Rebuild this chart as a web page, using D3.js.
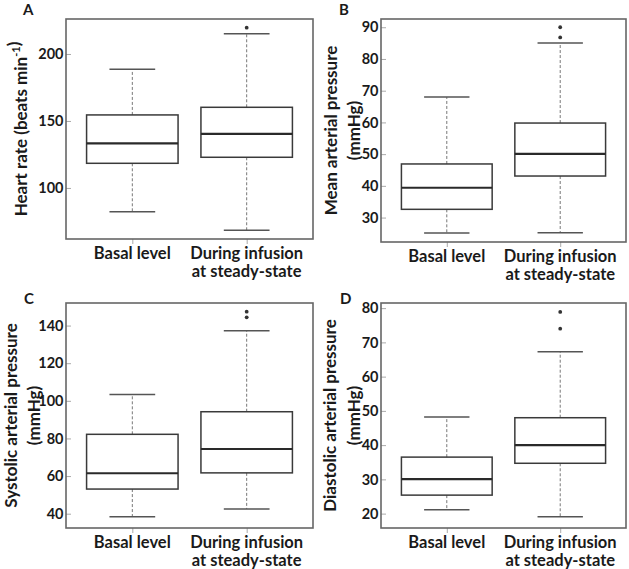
<!DOCTYPE html>
<html>
<head>
<meta charset="utf-8">
<script src="https://cdn.jsdelivr.net/npm/d3@7/dist/d3.min.js"></script>
<style>
html, body { margin: 0; padding: 0; background: #fff; }
svg { display: block; font-family: Lato, "Open Sans", sans-serif; }
</style>
</head>
<body>
<svg id="chart" width="629" height="569"></svg>
<script>
// ---- data ----
const categories = [["Basal level"], ["During infusion", "at steady-state"]];
const panelLetters = ["A", "B", "C", "D"];

// [lower whisker, Q1, median, Q3, upper whisker] for basal, infusion
const heartRate = [[82.3, 118.4, 133.3, 154.5, 188.6], [68.4, 122.9, 140.3, 160.2, 215.0]];
const heartRateOutliers = [[], [219.6]];
const meanPressure = [[25.1, 32.6, 39.4, 46.9, 68.0], [25.2, 43.1, 50.1, 59.8, 85.0]];
const meanPressureOutliers = [[], [86.8, 90.0]];
const systolicPressure = [[38.4, 53.1, 61.5, 82.2, 103.3], [42.5, 61.7, 74.4, 94.2, 137.2]];
const systolicPressureOutliers = [[], [144.4, 147.4]];
const diastolicPressure = [[21.1, 25.4, 30.1, 36.5, 48.2], [19.1, 34.7, 40.0, 48.0, 67.3]];
const diastolicPressureOutliers = [[], [74.0, 78.9]];

const heartRateTicks = [100, 150, 200];
const meanPressureTicks = [30, 40, 50, 60, 70, 80, 90];
const systolicPressureTicks = [40, 60, 80, 100, 120, 140];
const diastolicPressureTicks = [20, 30, 40, 50, 60, 70, 80];

const heartRateDomain = [61.9, 226.1];
const meanPressureDomain = [22.3, 92.6];
const systolicPressureDomain = [32.4, 152.0];
const diastolicPressureDomain = [15.8, 81.5];

const yTitles = [
  ["Heart rate (beats min|-1|)"],
  ["Mean arterial pressure", "(mmHg)"],
  ["Systolic arterial pressure", "(mmHg)"],
  ["Diastolic arterial pressure", "(mmHg)"]
];

// ---- layout ----
const frames = [
  {x0: 66, x1: 313, y0: 19, y1: 239, letterX: 23, letterY: 15, titleX: [21]},
  {x0: 381, x1: 626, y0: 19, y1: 242, letterX: 339, letterY: 15, titleX: [331, 354]},
  {x0: 66, x1: 313, y0: 303, y1: 528, letterX: 24, letterY: 304, titleX: [11, 34]},
  {x0: 381, x1: 626, y0: 303, y1: 528, letterX: 340, letterY: 304, titleX: [330, 354]}
];

const panels = [
  {stats: heartRate, outliers: heartRateOutliers, ticks: heartRateTicks, domain: heartRateDomain},
  {stats: meanPressure, outliers: meanPressureOutliers, ticks: meanPressureTicks, domain: meanPressureDomain},
  {stats: systolicPressure, outliers: systolicPressureOutliers, ticks: systolicPressureTicks, domain: systolicPressureDomain},
  {stats: diastolicPressure, outliers: diastolicPressureOutliers, ticks: diastolicPressureTicks, domain: diastolicPressureDomain}
];

const svg = d3.select("#chart");
const frameColor = "#666";
const boxColor = "#3a3a3a";
const textColor = "#1a1a1a";
const W = 700;

panels.forEach((p, i) => {
  const f = frames[i];
  const g = svg.append("g");
  const x = d3.scaleLinear().domain([0.42, 2.58]).range([f.x0, f.x1]);
  const y = d3.scaleLinear().domain(p.domain).range([f.y1, f.y0]);
  const unit = x(1) - x(0);
  const boxW = 0.8 * unit;
  const capW = 0.4 * unit;

  // y axis: ticks pointing inward
  const yAxis = d3.axisRight(y).tickValues(p.ticks).tickSize(5).tickFormat("");
  const ya = g.append("g").attr("transform", `translate(${f.x0},0)`).call(yAxis);
  ya.select(".domain").remove();
  ya.selectAll(".tick line").attr("stroke", "#aaa").attr("stroke-width", 1);
  g.selectAll(".ytl").data(p.ticks).join("text")
    .attr("x", f.x0 - 2.5).attr("y", d => y(d)).attr("dy", "0.36em")
    .attr("text-anchor", "end").attr("font-size", 14.5).attr("font-weight", W)
    .attr("fill", textColor).text(d => d);

  // x axis ticks pointing outward
  const xAxis = d3.axisBottom(x).tickValues([1, 2]).tickSize(5).tickFormat("");
  const xa = g.append("g").attr("transform", `translate(0,${f.y1})`).call(xAxis);
  xa.select(".domain").remove();
  xa.selectAll(".tick line").attr("stroke", "#aaa").attr("stroke-width", 1);

  categories.forEach((lines, ci) => {
    lines.forEach((t, li) => {
      g.append("text").attr("x", x(ci + 1)).attr("y", f.y1 + 19.5 + li * 18.5)
        .attr("text-anchor", "middle").attr("font-size", 16.5).attr("font-weight", W)
        .attr("fill", textColor).text(t);
    });
  });

  // boxes
  p.stats.forEach((s, ci) => {
    const cx = x(ci + 1);
    const [lo, q1, med, q3, hi] = s;
    g.append("line").attr("x1", cx).attr("x2", cx).attr("y1", y(q3)).attr("y2", y(hi))
      .attr("stroke", "#777").attr("stroke-width", 1).attr("stroke-dasharray", "3,2");
    g.append("line").attr("x1", cx).attr("x2", cx).attr("y1", y(q1)).attr("y2", y(lo))
      .attr("stroke", "#777").attr("stroke-width", 1).attr("stroke-dasharray", "3,2");
    [lo, hi].forEach(v => {
      g.append("line").attr("x1", cx - capW / 2).attr("x2", cx + capW / 2)
        .attr("y1", y(v)).attr("y2", y(v))
        .attr("stroke", "#555").attr("stroke-width", 1.5);
    });
    g.append("rect").attr("x", cx - boxW / 2).attr("width", boxW)
      .attr("y", y(q3)).attr("height", y(q1) - y(q3))
      .attr("fill", "none").attr("stroke", boxColor).attr("stroke-width", 1.5);
    g.append("line").attr("x1", cx - boxW / 2).attr("x2", cx + boxW / 2)
      .attr("y1", y(med)).attr("y2", y(med))
      .attr("stroke", "#2a2a2a").attr("stroke-width", 2.2);
    p.outliers[ci].forEach(v => {
      g.append("circle").attr("cx", cx).attr("cy", y(v)).attr("r", 1.9).attr("fill", "#333");
    });
  });

  // frame
  g.append("rect").attr("x", f.x0).attr("y", f.y0)
    .attr("width", f.x1 - f.x0).attr("height", f.y1 - f.y0)
    .attr("fill", "none").attr("stroke", frameColor).attr("stroke-width", 1.6);

  // panel letter
  g.append("text").attr("x", f.letterX).attr("y", f.letterY)
    .attr("font-size", 15).attr("font-weight", W).attr("fill", textColor)
    .text(panelLetters[i]);

  // y title
  const cy = (f.y0 + f.y1) / 2;
  yTitles[i].forEach((t, li) => {
    const tx = f.titleX[li];
    const txt = g.append("text")
      .attr("transform", `translate(${tx + 6},${cy}) rotate(-90)`)
      .attr("text-anchor", "middle").attr("font-size", 17).attr("font-weight", W)
      .attr("fill", textColor);
    const parts = t.split("|");
    parts.forEach((pt, pi) => {
      if (pt === "") return;
      if (pi % 2 === 1) {
        txt.append("tspan").attr("font-size", 11).attr("dy", -7).text(pt);
        txt.append("tspan").attr("dy", 7).text("");
      } else {
        txt.append("tspan").text(pt);
      }
    });
  });
});
</script>
</body>
</html>
